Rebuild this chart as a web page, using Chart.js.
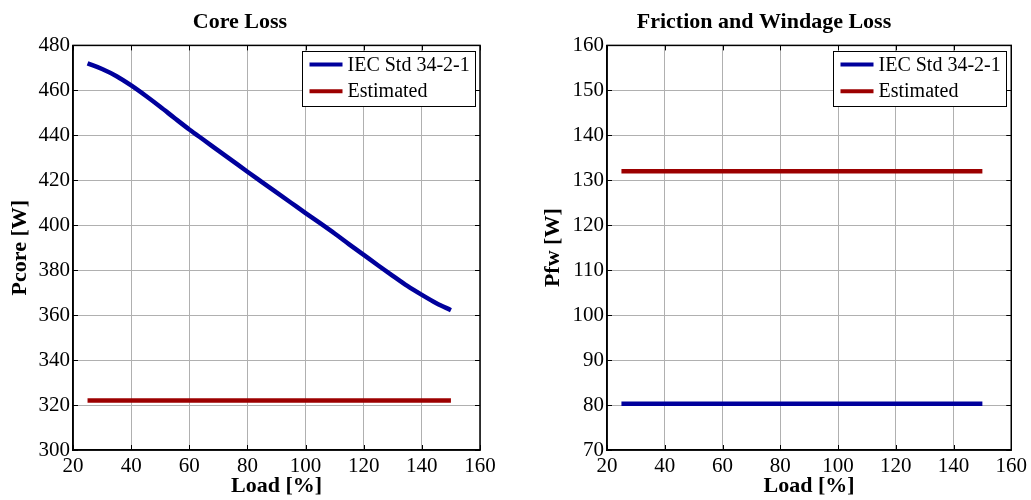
<!DOCTYPE html>
<html>
<head>
<meta charset="utf-8">
<script src="https://cdn.jsdelivr.net/npm/chart.js@4.4.0/dist/chart.umd.min.js"></script>
<style>
	html, body { margin: 0; padding: 0; background: #ffffff; }
	.panel { position: absolute; top: 0; height: 500px; }
</style>
</head>
<body>
<div class="panel" style="left:0;width:515px"><canvas id="canvaCore"></canvas></div>
<div class="panel" style="left:515px;width:516px"><canvas id="canvaFw"></canvas></div>
<script>
//* Datos
const loadPts = [25, 30, 35, 40, 45, 50, 55, 60, 65, 70, 75, 80, 85, 90, 95, 100, 105, 110, 115, 120, 125, 130, 135, 140, 145, 150];
const coreIec = [472, 469.5, 466.3, 462.2, 457.6, 452.7, 447.6, 442.6, 437.9, 433.2, 428.5, 423.8, 419.2, 414.6, 410, 405.4, 400.9, 396.3, 391.5, 386.8, 382.1, 377.5, 373, 369, 365.3, 362.2];
const loadEnds = [25, 150];
const coreEst = [322, 322];
const fwIec = [80.3, 80.3];
const fwEst = [132, 132];
const xTicks = [20, 40, 60, 80, 100, 120, 140, 160];
const seriesNames = ["IEC Std 34-2-1", "Estimated"];

//* Colores
const blue = "#00009c";
const red = "#9c0000";
const fontFam = "'Liberation Serif', 'Times New Roman', serif";

//funcion Arma pares x,y para la gráfica
function pares(xs, ys) {
	return xs.map((x, i) => ({ x: x, y: ys[i] }));
}

//* Plugin: caja, ticks interiores y leyenda estilo MATLAB
const boxPlugin = {
	id: "boxPlugin",
	afterDraw(chart) {
		const ctx = chart.ctx;
		const a = chart.chartArea;
		const xs = chart.scales.x;
		const ys = chart.scales.y;
		ctx.save();
		ctx.strokeStyle = "#000000";
		ctx.lineWidth = 1;
		//* ticks interiores
		ctx.beginPath();
		xs.ticks.forEach((t) => {
			const px = Math.round(xs.getPixelForValue(t.value)) + 0.5;
			ctx.moveTo(px, a.bottom); ctx.lineTo(px, a.bottom - 5);
			ctx.moveTo(px, a.top); ctx.lineTo(px, a.top + 5);
		});
		ys.ticks.forEach((t) => {
			const py = Math.round(ys.getPixelForValue(t.value)) + 0.5;
			ctx.moveTo(a.left, py); ctx.lineTo(a.left + 5, py);
			ctx.moveTo(a.right, py); ctx.lineTo(a.right - 5, py);
		});
		ctx.stroke();
		//* marco
		ctx.lineWidth = 1.5;
		ctx.strokeRect(a.left, a.top, a.right - a.left, a.bottom - a.top);
		//* leyenda
		const bw = 173, bh = 55;
		const bx = Math.round(a.right - 5 - bw) + 0.5;
		const by = Math.round(a.top + 6) + 0.5;
		ctx.fillStyle = "#ffffff";
		ctx.fillRect(bx, by, bw, bh);
		ctx.lineWidth = 1;
		ctx.strokeRect(bx, by, bw, bh);
		ctx.font = "20px " + fontFam;
		ctx.textBaseline = "middle";
		chart.data.datasets.forEach((ds, i) => {
			const ly = by + 13 + i * 26.7;
			ctx.strokeStyle = ds.borderColor;
			ctx.lineWidth = 4;
			ctx.beginPath();
			ctx.moveTo(bx + 7, ly); ctx.lineTo(bx + 40, ly);
			ctx.stroke();
			ctx.fillStyle = "#000000";
			ctx.fillText(ds.label, bx + 45, ly + 1);
		});
		ctx.restore();
	},
};

//funcion Opciones de cada gráfica
function opciones(titulo, yTitulo, yMin, yMax, yStep, yAncho, yPad, padDer) {
	return {
		responsive: true,
		maintainAspectRatio: false,
		animation: false,
		layout: { padding: { left: 0, right: padDer, top: 0, bottom: 0 } },
		plugins: {
			legend: { display: false },
			tooltip: { enabled: false },
			title: {
				display: true,
				text: titulo,
				color: "#000000",
				font: { size: 22, weight: "bold", family: fontFam, lineHeight: 1.2 },
				padding: { top: 9, bottom: 10 },
			},
		},
		elements: { point: { radius: 0 }, line: { cubicInterpolationMode: "monotone", borderCapStyle: "butt" } },
		scales: {
			x: {
				type: "linear",
				min: 20,
				max: 160,
				afterBuildTicks: (s) => { s.ticks = xTicks.map((v) => ({ value: v })); },
				afterFit: (s) => { s.height = 50; },
				grid: { color: "#b0b0b0", lineWidth: 1, drawTicks: false },
				border: { display: true, color: "#000000", width: 1.5 },
				ticks: { color: "#000000", padding: 4, font: { size: 21, family: fontFam } },
				title: {
					display: true,
					text: "Load [%]",
					color: "#000000",
					font: { size: 22, weight: "bold", family: fontFam, lineHeight: 1.2 },
					padding: { top: 0, bottom: 0 },
				},
			},
			y: {
				min: yMin,
				max: yMax,
				afterFit: (s) => { s.width = yAncho; },
				grid: { color: "#b0b0b0", lineWidth: 1, drawTicks: false },
				border: { display: true, color: "#000000", width: 1.5 },
				ticks: { color: "#000000", stepSize: yStep, padding: 3, font: { size: 21, family: fontFam } },
				title: {
					display: true,
					text: yTitulo,
					color: "#000000",
					font: { size: 22, weight: "bold", family: fontFam, lineHeight: 1.2 },
					padding: { top: yPad, bottom: 0 },
				},
			},
		},
	};
}

//* Gráfica de pérdidas en el núcleo
new Chart(document.getElementById("canvaCore"), {
	type: "line",
	data: {
		datasets: [
			{ label: seriesNames[0], data: pares(loadPts, coreIec), borderColor: blue, borderWidth: 4.5, fill: false },
			{ label: seriesNames[1], data: pares(loadEnds, coreEst), borderColor: red, borderWidth: 4.5, fill: false },
		],
	},
	options: opciones("Core Loss", "Pcore [W]", 300, 480, 20, 73, 7, 35),
	plugins: [boxPlugin],
});

//* Gráfica de pérdidas por fricción y ventilación
new Chart(document.getElementById("canvaFw"), {
	type: "line",
	data: {
		datasets: [
			{ label: seriesNames[0], data: pares(loadEnds, fwIec), borderColor: blue, borderWidth: 4.5, fill: false },
			{ label: seriesNames[1], data: pares(loadEnds, fwEst), borderColor: red, borderWidth: 4.5, fill: false },
		],
	},
	options: opciones("Friction and Windage Loss", "Pfw [W]", 70, 160, 10, 92, 25, 18),
	plugins: [boxPlugin],
});
</script>
</body>
</html>
